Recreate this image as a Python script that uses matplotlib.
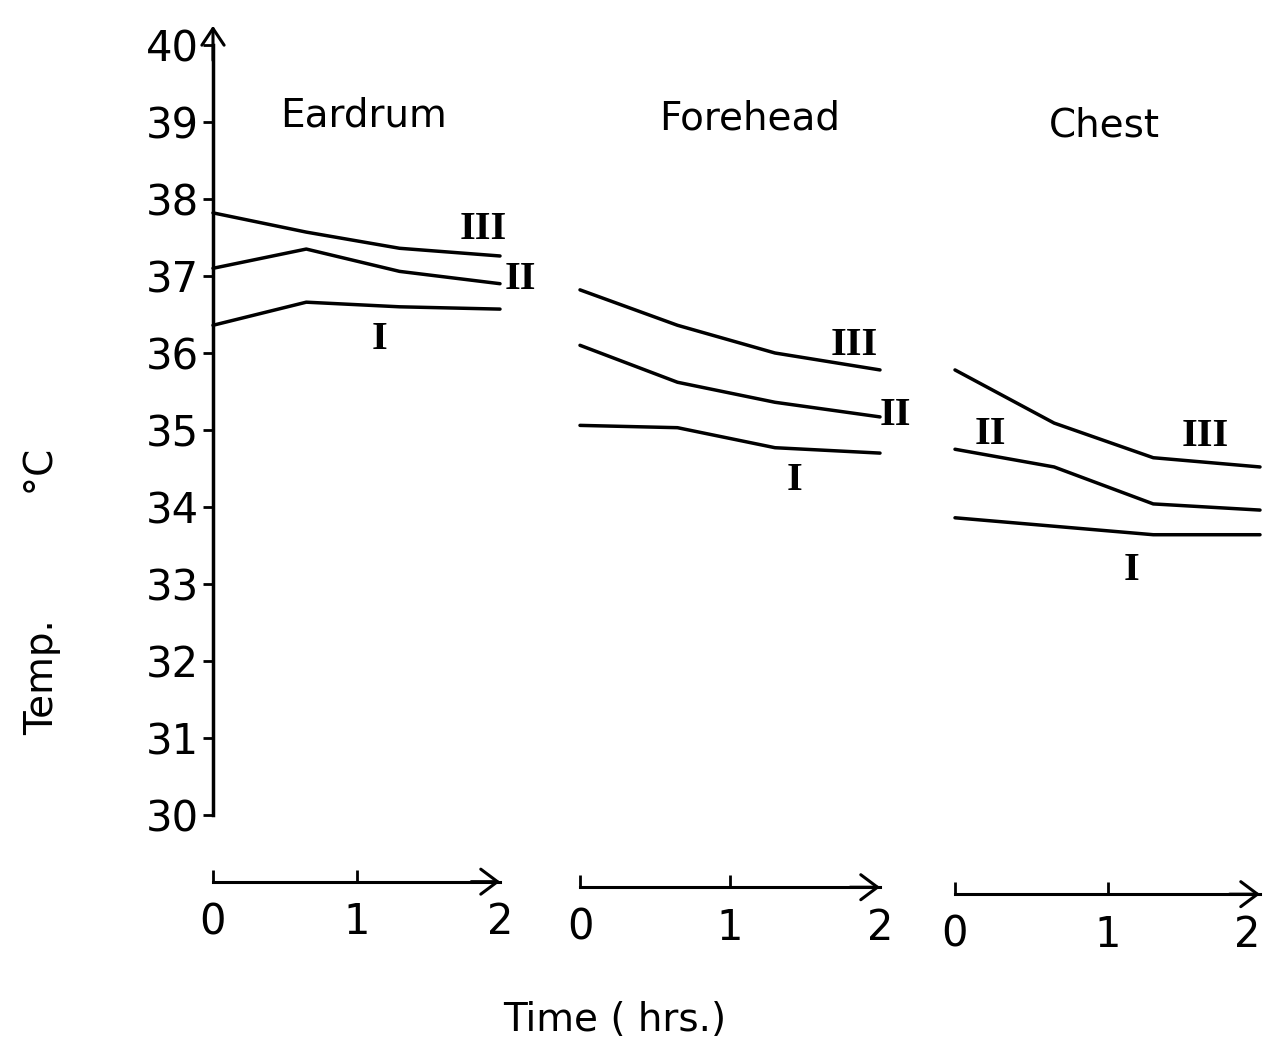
import matplotlib.pyplot as plt
from matplotlib.transforms import ScaledTranslation

# time points of the readings (hrs) and temperature readings (deg C)
times = [0, 0.65, 1.3, 2]
sites = ['Eardrum', 'Forehead', 'Chest']
groups = ['I', 'II', 'III']

eardrum = {'I': [36.36, 36.66, 36.60, 36.57],
           'II': [37.10, 37.35, 37.06, 36.90],
           'III': [37.82, 37.57, 37.36, 37.26]}
forehead = {'I': [35.06, 35.03, 34.77, 34.70],
            'II': [36.10, 35.62, 35.36, 35.17],
            'III': [36.82, 36.36, 36.00, 35.78]}
chest = {'I': [33.86, 33.75, 33.64, 33.64],
         'II': [34.75, 34.52, 34.04, 33.96],
         'III': [35.78, 35.09, 34.64, 34.52]}
data = [eardrum, forehead, chest]

# where the roman numeral labels sit (time, temp)
label_pos = [{'I': (1.16, 36.17), 'II': (2.14, 36.95), 'III': (1.88, 37.60)},
             {'I': (1.43, 34.35), 'II': (2.10, 35.19), 'III': (1.83, 36.10)},
             {'I': (1.16, 33.18), 'II': (0.23, 34.94), 'III': (1.64, 34.91)}]

ytick_vals = list(range(30, 41))
xtick_vals = [0, 1, 2]

W, H = 1263, 1051
fig = plt.figure(figsize=(W / 100, H / 100), dpi=100)

panels_px = [(213, 500), (580, 880), (955, 1260)]
bottom_px, top_px = 815, 45
time_off = [48, 52, 57]          # points below the panel for the time axis
title_y = [0.909, 0.905, 0.896]
title_x = [0.525, 0.565, 0.49]

for i, site in enumerate(sites):
    x0, x1 = panels_px[i]
    ax = fig.add_axes([x0 / W, 1 - bottom_px / H, (x1 - x0) / W,
                       (bottom_px - top_px) / H])
    ax.set_xlim(0, 2)
    ax.set_ylim(30, 40)
    ax.patch.set_alpha(0)

    for g in groups:
        ax.plot(times, data[i][g], color='black', lw=2.5, clip_on=False,
                solid_capstyle='round')
        tx, ty = label_pos[i][g]
        ax.text(tx, ty, g, ha='center', va='center', fontsize=29,
                fontweight='bold', family='Liberation Serif')

    ax.text(title_x[i], title_y[i], site, transform=ax.transAxes,
            ha='center', va='center', fontsize=28)

    for s in ['top', 'right']:
        ax.spines[s].set_visible(False)

    # time axis below each panel
    ax.spines['bottom'].set_position(('outward', time_off[i]))
    ax.spines['bottom'].set_linewidth(2.2)
    ax.set_xticks(xtick_vals)
    ax.set_xticklabels([str(v) for v in xtick_vals])
    ax.tick_params(axis='x', direction='in', length=9, width=2,
                   labelsize=30, pad=14)
    ax.xaxis.get_major_ticks()[2].tick1line.set_visible(False)
    if i == 2:
        ax.get_xticklabels()[2].set_horizontalalignment('right')
    trans = ax.get_xaxis_transform() + ScaledTranslation(
        0, -time_off[i] / 72, fig.dpi_scale_trans)
    ax.annotate('', xy=(2.0, 0), xytext=(1.8, 0), xycoords=trans,
                arrowprops=dict(arrowstyle='->,head_length=0.6,head_width=0.45',
                                lw=2.2, color='black', mutation_scale=20,
                                shrinkA=0, shrinkB=0))

    if i == 0:
        ax.spines['left'].set_linewidth(2.5)
        ax.set_yticks(ytick_vals)
        ax.set_yticklabels([str(v) for v in ytick_vals])
        ax.tick_params(axis='y', direction='out', length=7, width=2,
                       labelsize=30, pad=3)
        ax.annotate('', xy=(0, 40.25), xytext=(0, 39.8),
                    xycoords=ax.get_yaxis_transform(),
                    arrowprops=dict(arrowstyle='->,head_length=0.6,head_width=0.4',
                                    lw=2.2, color='black', mutation_scale=20,
                                    shrinkA=0, shrinkB=0))
    else:
        ax.spines['left'].set_visible(False)
        ax.set_yticks([])

fig.text(42 / W, 1 - 592 / H, 'Temp.          \u00b0C', rotation=90,
         ha='center', va='center', fontsize=28)
fig.text(615 / W, 1 - 1020 / H, 'Time ( hrs.)', ha='center', va='center',
         fontsize=28)

fig.savefig('out.png', dpi=100)
